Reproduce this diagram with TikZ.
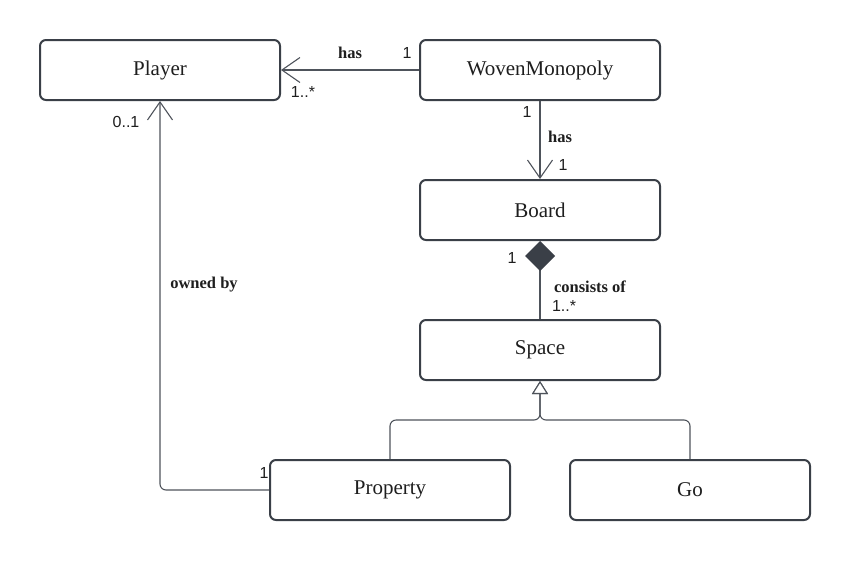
\documentclass[tikz,border=0pt]{standalone}
\usepackage{fontspec}
\setmainfont{Liberation Serif}
\newfontfamily\multfont{Liberation Sans}
\usetikzlibrary{arrows.meta}
\definecolor{boxline}{HTML}{3A3F47}
\definecolor{conline}{HTML}{4E535B}
\definecolor{txt}{HTML}{1E1E1E}
\tikzset{
  classbox/.style={draw=boxline, line width=2pt, rounded corners=6pt, fill=white,
    minimum width=240pt, minimum height=60pt, inner sep=0pt, text=txt,
    font=\fontsize{21}{24}\selectfont},
  conn/.style={draw=conline, line width=1.1pt},
  openarrow/.style={-{Straight Barb[length=18pt,width=25pt,line width=1.1pt]}},
  genarrow/.style={-{Triangle[open,length=13pt,width=16pt,line width=1.1pt,fill=white]}},
  assoc/.style={font=\fontsize{16.5}{19}\selectfont\bfseries, text=txt, inner sep=0pt},
  mult/.style={font=\multfont\fontsize{16}{19}\selectfont, text=txt, inner sep=0pt},
}
\begin{document}
\begin{tikzpicture}[x=1pt,y=-1pt]
\useasboundingbox (0,0) rectangle (850,560);
\node[classbox] (player) at (160,70) {Player};
\node[classbox] (woven) at (540,70) {WovenMonopoly};
\node[classbox] (board) at (540,210) {Board};
\node[classbox] (space) at (540,350) {Space};
\node[classbox] (prop) at (390,490) {Property};
\node[classbox] (go) at (690,490) {Go};

% WovenMonopoly -> Player
\draw[conn, openarrow] (woven.west) -- (player.east);
\node[assoc] (l1) at (350,53) {has};
\node[mult] (m1) at (407,53) {1};
\node[mult] (m2) at (303,92) {1..*};

% WovenMonopoly -> Board
\draw[conn, openarrow] (woven.south) -- (board.north);
\node[mult] (m3) at (527,112) {1};
\node[assoc] (l2) at (560,137) {has};
\node[mult] (m4) at (563,165) {1};

% Board <>-- Space
\draw[conn, {Diamond[length=30pt,width=30pt,fill=boxline,line width=0pt]}-] (board.south) -- (space.north);
\node[mult] (m5) at (512,258) {1};
\node[assoc] (l3) at (590,287) {consists of};
\node[mult] (m6) at (564,306) {1..*};

% Generalization
\coordinate (split) at (540,420);
\draw[conn, rounded corners=6pt, genarrow] (prop.north) |- (split) -- (space.south);
\draw[conn, rounded corners=6pt, genarrow] (go.north) |- (split) -- (space.south);

% Property -> Player (owned by)
\draw[conn, rounded corners=6pt, openarrow] (prop.west) -| (player.south);
\node[assoc] (l4) at (204,285) {owned by};
\node[mult] (m7) at (126,122) {0..1};
\node[mult] (m8) at (264,473) {1};
\end{tikzpicture}
\end{document}
